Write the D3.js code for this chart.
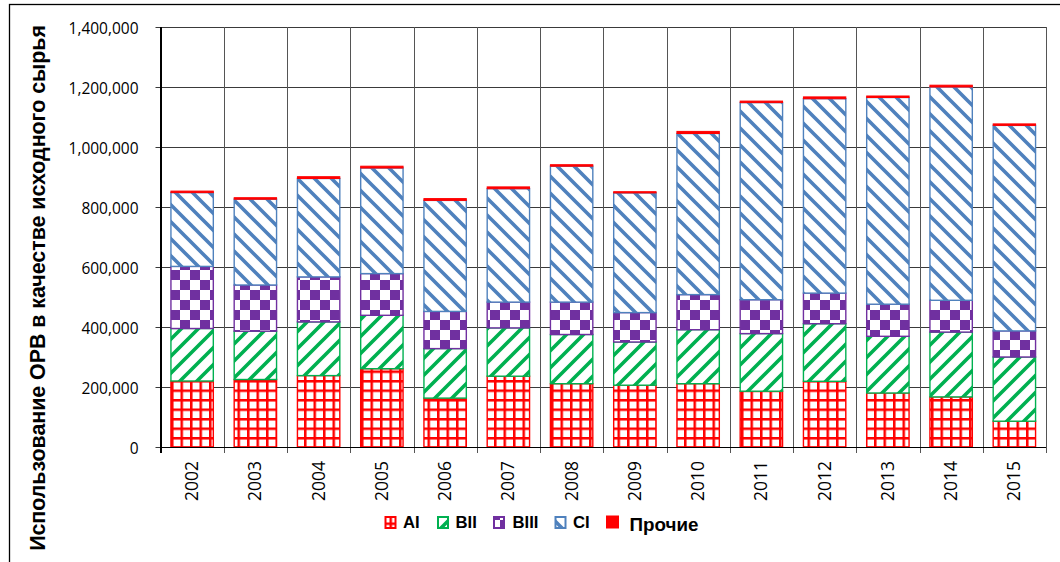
<!DOCTYPE html>
<html>
<head>
<meta charset="utf-8">
<script src="https://cdn.jsdelivr.net/npm/d3@7"></script>
<style>
  body { margin: 0; background: #fff; }
  svg { display: block; }
  .tick-y { font-family: "Open Sans", sans-serif; fill: #000; }
  .tick-x { font-family: "Open Sans", sans-serif; fill: #000; }
  .legend { font-family: "Liberation Sans", Arial, sans-serif; font-weight: bold; fill: #000; }
</style>
</head>
<body>
<svg id="chart" width="1060" height="562"></svg>
<script>
// data (tonnes)
var years = ["2002","2003","2004","2005","2006","2007","2008","2009","2010","2011","2012","2013","2014","2015"];
var seriesNames = ["AI", "BII", "BIII", "CI", "Прочие"];
var valAI   = [220000, 225000, 238000, 261000, 163000, 236000, 211000, 206000, 211000, 186000, 219000, 180000, 167000, 86000];
var valBII  = [175000, 161000, 179000, 178000, 165000, 161000, 164000, 144000, 180000, 192000, 192000, 189000, 216000, 214000];
var valBIII = [207000, 154000, 150000, 139000, 124000,  86000, 108000,  98000, 117000, 113000, 102000, 107000, 106000,  87000];
var valCI   = [246000, 286000, 328000, 352000, 370000, 378000, 453000, 399000, 537000, 657000, 648000, 689000, 711000, 685000];
var valOther = [5000, 5000, 6000, 6000, 6000, 6000, 5000, 4000, 7000, 5000, 6000, 5000, 6000, 5000];
var yTicks = [0, 200000, 400000, 600000, 800000, 1000000, 1200000, 1400000];

var svg = d3.select("#chart");

// plot box (top/left can't be used as globals in a browser)
var plotLeft = 160.5, plotRight = 1046, plotTop = 27, plotBottom = 447;

var colors = ["#FF0000", "#00B050", "#7030A0", "#4F81BD", "#FF0000"];

// patterns like the excel fills
var defs = svg.append("defs");

var pAI = defs.append("pattern").attr("id", "p0").attr("patternUnits", "userSpaceOnUse")
  .attr("width", 9.5).attr("height", 9.5);
pAI.append("rect").attr("width", 9.5).attr("height", 9.5).attr("fill", "#fff");
pAI.append("rect").attr("width", 9.5).attr("height", 2.5).attr("fill", colors[0]);
pAI.append("rect").attr("width", 2.5).attr("height", 9.5).attr("fill", colors[0]);

var pBII = defs.append("pattern").attr("id", "p1").attr("patternUnits", "userSpaceOnUse")
  .attr("width", 17).attr("height", 17);
pBII.append("rect").attr("width", 17).attr("height", 17).attr("fill", "#fff");
pBII.append("path").attr("d", "M-4,4 L4,-4 M0,17 L17,0 M13,21 L21,13")
  .attr("stroke", colors[1]).attr("stroke-width", 3.6);

var pBIII = defs.append("pattern").attr("id", "p2").attr("patternUnits", "userSpaceOnUse")
  .attr("width", 20).attr("height", 20);
pBIII.append("rect").attr("width", 20).attr("height", 20).attr("fill", "#fff");
pBIII.append("rect").attr("width", 10).attr("height", 10).attr("fill", colors[2]);
pBIII.append("rect").attr("x", 10).attr("y", 10).attr("width", 10).attr("height", 10).attr("fill", colors[2]);

var pCI = defs.append("pattern").attr("id", "p3").attr("patternUnits", "userSpaceOnUse")
  .attr("width", 17).attr("height", 17);
pCI.append("rect").attr("width", 17).attr("height", 17).attr("fill", "#fff");
pCI.append("path").attr("d", "M-4,13 L4,21 M0,0 L17,17 M13,-4 L21,4")
  .attr("stroke", colors[3]).attr("stroke-width", 3.6);

var fills = ["url(#p0)", "url(#p1)", "url(#p2)", "url(#p3)", colors[4]];

// outer frame
svg.append("rect").attr("x", 9.5).attr("y", 4.5).attr("width", 1100).attr("height", 700)
  .attr("fill", "none").attr("stroke", "#000").attr("stroke-width", 1.3);

var x = d3.scaleBand().domain(years).range([plotLeft, plotRight]).paddingInner(0.33).paddingOuter(0.165);
var y = d3.scaleLinear().domain([0, 1400000]).range([plotBottom, plotTop]);

// horizontal gridlines
svg.selectAll(".hgrid").data(yTicks).enter().append("line")
  .attr("x1", plotLeft - 5).attr("x2", plotRight)
  .attr("y1", function(d) { return Math.round(y(d)) + 0.5; })
  .attr("y2", function(d) { return Math.round(y(d)) + 0.5; })
  .attr("stroke", "#3a3a3a").attr("stroke-width", 1);

// vertical gridlines at category boundaries (stick out below like ticks)
var bounds = years.map(function(d) { return x(d) - x.step() * 0.165; }).concat([plotRight]);
svg.selectAll(".vgrid").data(bounds).enter().append("line")
  .attr("x1", function(d) { return Math.round(d) + 0.5; })
  .attr("x2", function(d) { return Math.round(d) + 0.5; })
  .attr("y1", plotTop).attr("y2", plotBottom + 6)
  .attr("stroke", function(d, i) { return i === 0 ? "#000" : "#555"; }).attr("stroke-width", 1);

// stacked bars
var rows = years.map(function(yr, i) {
  return { year: yr, AI: valAI[i], BII: valBII[i], BIII: valBIII[i], CI: valCI[i], "Прочие": valOther[i] };
});
var stacked = d3.stack().keys(seriesNames)(rows);

var groups = svg.selectAll(".series").data(stacked).enter().append("g")
  .attr("fill", function(d, i) { return fills[i]; })
  .attr("stroke", function(d, i) { return colors[i]; })
  .attr("stroke-width", function(d, i) { return i === 4 ? 1 : 1.4; });

groups.selectAll("rect").data(function(d) { return d; }).enter().append("rect")
  .attr("x", function(d) { return x(d.data.year); })
  .attr("y", function(d) { return y(d[1]); })
  .attr("width", x.bandwidth())
  .attr("height", function(d) { return y(d[0]) - y(d[1]); });

// axis lines
svg.append("line").attr("x1", plotLeft).attr("x2", plotRight).attr("y1", plotBottom + 0.5).attr("y2", plotBottom + 0.5)
  .attr("stroke", "#000");
svg.append("line").attr("x1", plotLeft).attr("x2", plotLeft).attr("y1", plotTop).attr("y2", plotBottom + 6)
  .attr("stroke", "#000");

// helper: pick a font size so a sample string gets the width seen in the picture
function fitSize(cls, sample, target) {
  var t = svg.append("text").attr("class", cls).style("font-size", "20px").text(sample);
  var w = t.node().getComputedTextLength();
  t.remove();
  return 20 * target / w;
}
var ySize = fitSize("tick-y", "1,400,000", 70);
var xSize = fitSize("tick-x", "2002", 40);

// y tick labels
var yAxis = d3.axisLeft(y).tickValues(yTicks).tickFormat(d3.format(",")).tickSize(0).tickPadding(22);
var gy = svg.append("g").attr("transform", "translate(" + plotLeft + ",0)").call(yAxis);
gy.select(".domain").remove();
gy.attr("font-family", null).attr("font-size", null);
gy.selectAll("text").attr("class", "tick-y").style("font-size", ySize + "px").attr("dy", "0.4em");

// x tick labels, rotated
svg.selectAll(".xlab").data(years).enter().append("text")
  .attr("class", "tick-x")
  .style("font-size", xSize + "px")
  .attr("transform", function(d) {
    return "translate(" + (x(d) + x.bandwidth() / 2 + 6) + "," + (plotBottom + 14) + ") rotate(-90)";
  })
  .attr("text-anchor", "end")
  .text(function(d) { return d; });

// y axis title
var title = svg.append("text")
  .attr("class", "legend")
  .attr("transform", "translate(45,288) rotate(-90)")
  .attr("text-anchor", "middle")
  .style("font-size", "18px")
  .text("Использование ОРВ в качестве исходного сырья");
var tl = title.node().getComputedTextLength();
title.style("font-size", (18 * 526 / tl) + "px");

// legend
var legX = [385.5, 438, 494, 555.5, 607];
var legText = [403, 455.5, 512.5, 573, 629.5];
var leg = svg.selectAll(".leg").data(seriesNames).enter().append("g");
leg.append("rect")
  .attr("x", function(d, i) { return legX[i]; })
  .attr("y", function(d, i) { return i === 4 ? 516.5 : 517; })
  .attr("width", function(d, i) { return i === 4 ? 11 : 10; })
  .attr("height", 11)
  .attr("fill", function(d, i) { return fills[i]; })
  .attr("stroke", function(d, i) { return colors[i]; })
  .attr("stroke-width", 2);
var legSize = fitSize("legend", "BIII", 26);
leg.append("text")
  .attr("class", "legend")
  .attr("x", function(d, i) { return legText[i]; })
  .attr("y", function(d, i) { return i === 4 ? 531 : 528; })
  .style("font-size", function(d, i) { return i === 4 ? fitSize("legend", "Прочие", 69) + "px" : legSize + "px"; })
  .text(function(d) { return d; });
</script>
</body>
</html>
